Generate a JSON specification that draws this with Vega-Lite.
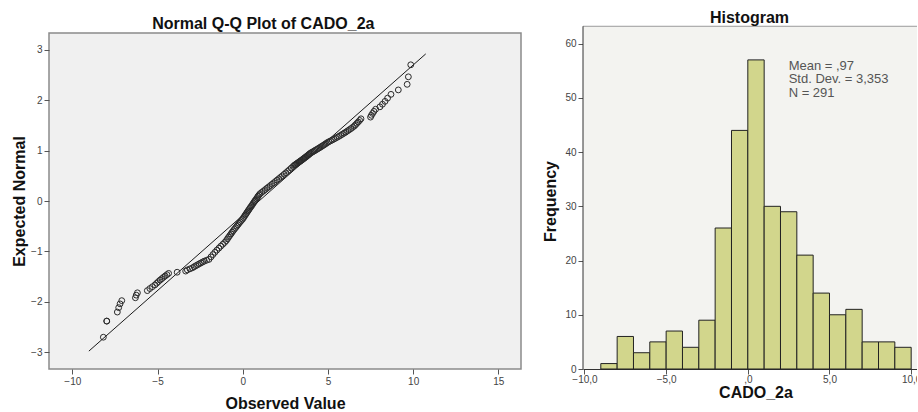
{
  "$schema": "https://vega.github.io/schema/vega-lite/v6.json",
  "background": "white",
  "padding": {"left": 10, "top": 9, "right": -12, "bottom": 0},
  "spacing": 20,
  "config": {
    "font": "Liberation Sans",
    "axis": {
      "labelFont": "Liberation Sans",
      "labelFontSize": 10,
      "labelColor": "#444",
      "tickColor": "#555",
      "tickSize": 5,
      "labelPadding": 2,
      "grid": false,
      "domain": false,
      "titleFont": "Liberation Sans",
      "titleFontSize": 16,
      "titleFontWeight": "bold",
      "titleColor": "#111"
    },
    "title": {"font": "Liberation Sans", "fontSize": 16, "fontWeight": "bold", "color": "#111"}
  },
  "datasets": {
    "qq": [
      {"observed": -8.18, "expected": -2.704},
      {"observed": -7.98, "expected": -2.384},
      {"observed": -7.98, "expected": -2.384},
      {"observed": -7.36, "expected": -2.205},
      {"observed": -7.28, "expected": -2.117},
      {"observed": -7.2, "expected": -2.042},
      {"observed": -7.1, "expected": -1.978},
      {"observed": -6.3, "expected": -1.921},
      {"observed": -6.25, "expected": -1.869},
      {"observed": -6.18, "expected": -1.822},
      {"observed": -5.6, "expected": -1.779},
      {"observed": -5.45, "expected": -1.738},
      {"observed": -5.3, "expected": -1.701},
      {"observed": -5.15, "expected": -1.665},
      {"observed": -5.05, "expected": -1.632},
      {"observed": -4.95, "expected": -1.6},
      {"observed": -4.85, "expected": -1.57},
      {"observed": -4.75, "expected": -1.542},
      {"observed": -4.65, "expected": -1.514},
      {"observed": -4.55, "expected": -1.488},
      {"observed": -4.45, "expected": -1.462},
      {"observed": -4.35, "expected": -1.437},
      {"observed": -3.85, "expected": -1.414},
      {"observed": -3.35, "expected": -1.391},
      {"observed": -3.25, "expected": -1.368},
      {"observed": -3.1, "expected": -1.347},
      {"observed": -2.95, "expected": -1.326},
      {"observed": -2.85, "expected": -1.305},
      {"observed": -2.75, "expected": -1.285},
      {"observed": -2.65, "expected": -1.266},
      {"observed": -2.55, "expected": -1.247},
      {"observed": -2.45, "expected": -1.229},
      {"observed": -2.35, "expected": -1.21},
      {"observed": -2.25, "expected": -1.193},
      {"observed": -2.12, "expected": -1.176},
      {"observed": -1.98, "expected": -1.159},
      {"observed": -1.865, "expected": -1.11},
      {"observed": -1.75, "expected": -1.063},
      {"observed": -1.635, "expected": -1.019},
      {"observed": -1.52, "expected": -0.976},
      {"observed": -1.4, "expected": -0.936},
      {"observed": -1.29, "expected": -0.897},
      {"observed": -1.17, "expected": -0.859},
      {"observed": -1.06, "expected": -0.822},
      {"observed": -0.966, "expected": -0.787},
      {"observed": -0.898, "expected": -0.752},
      {"observed": -0.83, "expected": -0.718},
      {"observed": -0.76, "expected": -0.685},
      {"observed": -0.69, "expected": -0.653},
      {"observed": -0.625, "expected": -0.621},
      {"observed": -0.557, "expected": -0.59},
      {"observed": -0.49, "expected": -0.56},
      {"observed": -0.42, "expected": -0.53},
      {"observed": -0.35, "expected": -0.501},
      {"observed": -0.284, "expected": -0.472},
      {"observed": -0.216, "expected": -0.443},
      {"observed": -0.148, "expected": -0.415},
      {"observed": -0.08, "expected": -0.387},
      {"observed": -0.011, "expected": -0.36},
      {"observed": 0.044, "expected": -0.332},
      {"observed": 0.096, "expected": -0.305},
      {"observed": 0.149, "expected": -0.278},
      {"observed": 0.2, "expected": -0.252},
      {"observed": 0.254, "expected": -0.225},
      {"observed": 0.307, "expected": -0.198},
      {"observed": 0.36, "expected": -0.172},
      {"observed": 0.412, "expected": -0.146},
      {"observed": 0.465, "expected": -0.12},
      {"observed": 0.518, "expected": -0.095},
      {"observed": 0.57, "expected": -0.069},
      {"observed": 0.623, "expected": -0.043},
      {"observed": 0.675, "expected": -0.017},
      {"observed": 0.71, "expected": 0.0},
      {"observed": 0.746, "expected": 0.017},
      {"observed": 0.8, "expected": 0.043},
      {"observed": 0.85, "expected": 0.069},
      {"observed": 0.9, "expected": 0.095},
      {"observed": 0.956, "expected": 0.12},
      {"observed": 1.017, "expected": 0.146},
      {"observed": 1.117, "expected": 0.172},
      {"observed": 1.217, "expected": 0.198},
      {"observed": 1.317, "expected": 0.225},
      {"observed": 1.417, "expected": 0.252},
      {"observed": 1.517, "expected": 0.278},
      {"observed": 1.617, "expected": 0.305},
      {"observed": 1.717, "expected": 0.332},
      {"observed": 1.817, "expected": 0.36},
      {"observed": 1.917, "expected": 0.387},
      {"observed": 2.017, "expected": 0.415},
      {"observed": 2.12, "expected": 0.443},
      {"observed": 2.224, "expected": 0.472},
      {"observed": 2.328, "expected": 0.501},
      {"observed": 2.43, "expected": 0.53},
      {"observed": 2.534, "expected": 0.56},
      {"observed": 2.638, "expected": 0.59},
      {"observed": 2.74, "expected": 0.621},
      {"observed": 2.845, "expected": 0.653},
      {"observed": 2.948, "expected": 0.685},
      {"observed": 3.024, "expected": 0.707},
      {"observed": 3.071, "expected": 0.718},
      {"observed": 3.119, "expected": 0.73},
      {"observed": 3.167, "expected": 0.741},
      {"observed": 3.214, "expected": 0.752},
      {"observed": 3.262, "expected": 0.764},
      {"observed": 3.31, "expected": 0.775},
      {"observed": 3.357, "expected": 0.787},
      {"observed": 3.405, "expected": 0.798},
      {"observed": 3.452, "expected": 0.81},
      {"observed": 3.5, "expected": 0.822},
      {"observed": 3.548, "expected": 0.834},
      {"observed": 3.595, "expected": 0.847},
      {"observed": 3.643, "expected": 0.859},
      {"observed": 3.69, "expected": 0.871},
      {"observed": 3.738, "expected": 0.884},
      {"observed": 3.786, "expected": 0.897},
      {"observed": 3.833, "expected": 0.91},
      {"observed": 3.881, "expected": 0.923},
      {"observed": 3.929, "expected": 0.936},
      {"observed": 3.976, "expected": 0.95},
      {"observed": 4.036, "expected": 0.963},
      {"observed": 4.107, "expected": 0.976},
      {"observed": 4.179, "expected": 0.99},
      {"observed": 4.25, "expected": 1.005},
      {"observed": 4.321, "expected": 1.019},
      {"observed": 4.393, "expected": 1.034},
      {"observed": 4.464, "expected": 1.049},
      {"observed": 4.536, "expected": 1.063},
      {"observed": 4.607, "expected": 1.079},
      {"observed": 4.679, "expected": 1.094},
      {"observed": 4.75, "expected": 1.11},
      {"observed": 4.821, "expected": 1.126},
      {"observed": 4.893, "expected": 1.142},
      {"observed": 4.964, "expected": 1.159},
      {"observed": 5.05, "expected": 1.176},
      {"observed": 5.15, "expected": 1.193},
      {"observed": 5.25, "expected": 1.21},
      {"observed": 5.35, "expected": 1.229},
      {"observed": 5.45, "expected": 1.247},
      {"observed": 5.55, "expected": 1.266},
      {"observed": 5.65, "expected": 1.285},
      {"observed": 5.75, "expected": 1.305},
      {"observed": 5.85, "expected": 1.326},
      {"observed": 5.95, "expected": 1.347},
      {"observed": 6.05, "expected": 1.368},
      {"observed": 6.15, "expected": 1.391},
      {"observed": 6.25, "expected": 1.414},
      {"observed": 6.35, "expected": 1.437},
      {"observed": 6.45, "expected": 1.462},
      {"observed": 6.55, "expected": 1.488},
      {"observed": 6.62, "expected": 1.514},
      {"observed": 6.7, "expected": 1.542},
      {"observed": 6.78, "expected": 1.57},
      {"observed": 6.86, "expected": 1.6},
      {"observed": 6.94, "expected": 1.632},
      {"observed": 7.5, "expected": 1.665},
      {"observed": 7.55, "expected": 1.701},
      {"observed": 7.62, "expected": 1.738},
      {"observed": 7.7, "expected": 1.779},
      {"observed": 7.8, "expected": 1.822},
      {"observed": 8.05, "expected": 1.869},
      {"observed": 8.2, "expected": 1.921},
      {"observed": 8.35, "expected": 1.978},
      {"observed": 8.5, "expected": 2.042},
      {"observed": 8.7, "expected": 2.117},
      {"observed": 9.13, "expected": 2.205},
      {"observed": 9.65, "expected": 2.316},
      {"observed": 9.72, "expected": 2.465},
      {"observed": 9.86, "expected": 2.704}
    ],
    "refline": [
      {"observed": -9.03, "expected": -2.98},
      {"observed": 10.74, "expected": 2.92}
    ],
    "hist": [
      {"bin_start": -9, "bin_end": -8, "count": 1},
      {"bin_start": -8, "bin_end": -7, "count": 6},
      {"bin_start": -7, "bin_end": -6, "count": 3},
      {"bin_start": -6, "bin_end": -5, "count": 5},
      {"bin_start": -5, "bin_end": -4, "count": 7},
      {"bin_start": -4, "bin_end": -3, "count": 4},
      {"bin_start": -3, "bin_end": -2, "count": 9},
      {"bin_start": -2, "bin_end": -1, "count": 26},
      {"bin_start": -1, "bin_end": 0, "count": 44},
      {"bin_start": 0, "bin_end": 1, "count": 57},
      {"bin_start": 1, "bin_end": 2, "count": 30},
      {"bin_start": 2, "bin_end": 3, "count": 29},
      {"bin_start": 3, "bin_end": 4, "count": 21},
      {"bin_start": 4, "bin_end": 5, "count": 14},
      {"bin_start": 5, "bin_end": 6, "count": 10},
      {"bin_start": 6, "bin_end": 7, "count": 11},
      {"bin_start": 7, "bin_end": 8, "count": 5},
      {"bin_start": 8, "bin_end": 9, "count": 5},
      {"bin_start": 9, "bin_end": 10, "count": 4}
    ]
  },
  "hconcat": [
    {
      "width": 472,
      "height": 336,
      "title": {"text": "Normal Q-Q Plot of CADO_2a", "anchor": "middle", "frame": "bounds", "offset": 1, "dx": -3},
      "view": {"fill": "#f0f0f0", "stroke": "#8a8a8a", "strokeWidth": 1.5},
      "encoding": {
        "x": {
          "field": "observed",
          "type": "quantitative",
          "scale": {"domain": [-11.37, 16.33], "nice": false, "zero": false},
          "axis": {"title": "Observed Value", "values": [-10, -5, 0, 5, 10, 15], "titlePadding": 9}
        },
        "y": {
          "field": "expected",
          "type": "quantitative",
          "scale": {"domain": [-3.335, 3.335], "nice": false, "zero": false},
          "axis": {"title": "Expected Normal", "values": [-3, -2, -1, 0, 1, 2, 3], "titlePadding": 3}
        }
      },
      "layer": [
        {
          "data": {"name": "refline"},
          "mark": {"type": "line", "color": "#1a1a1a", "strokeWidth": 1}
        },
        {
          "data": {"name": "qq"},
          "mark": {"type": "point", "shape": "circle", "filled": false, "size": 34, "stroke": "#2a2a2a", "strokeWidth": 1, "opacity": 1}
        }
      ]
    },
    {
      "width": 345,
      "height": 336,
      "title": {"text": "Histogram", "anchor": "middle", "frame": "group", "dx": -6, "offset": 0},
      "view": {"stroke": null},
      "layer": [
        {
          "data": {"values": [{"panel": "histogram"}]},
          "mark": {"type": "rect", "fill": "#f3f3f0"},
          "encoding": {
            "x": {"datum": -10.09, "type": "quantitative", "scale": {"domain": [-10.09, 11.03], "nice": false, "zero": false}},
            "x2": {"datum": 11.03},
            "y": {"datum": 0, "type": "quantitative", "scale": {"domain": [0, 61.96], "nice": false, "zero": false}},
            "y2": {"datum": 63.2}
          }
        },
        {
          "data": {"name": "hist"},
          "mark": {"type": "bar", "fill": "#d2d68c", "stroke": "#222", "strokeWidth": 1},
          "encoding": {
            "x": {
              "field": "bin_start",
              "type": "quantitative",
              "scale": {"domain": [-10.09, 11.03], "nice": false, "zero": false},
              "axis": {
                "title": "CADO_2a",
                "values": [-10, -5, 0, 5, 10],
                "labelExpr": "datum.value == 0 ? ',0' : replace(format(datum.value, '.1f'), '.', ',')",
                "domain": true,
                "domainColor": "#333",
                "labelPadding": 0,
                "titlePadding": 0
              }
            },
            "x2": {"field": "bin_end"},
            "y": {
              "field": "count",
              "type": "quantitative",
              "scale": {"domain": [0, 61.96], "nice": false, "zero": false},
              "axis": {
                "title": "Frequency",
                "values": [0, 10, 20, 30, 40, 50, 60],
                "titlePadding": 6
              }
            },
            "y2": {"datum": 0}
          }
        },
        {
          "data": {"values": [{"panel": "histogram"}]},
          "mark": {"type": "rule", "color": "#9a9a9a", "strokeWidth": 1},
          "encoding": {
            "y": {"datum": 63.2, "type": "quantitative", "scale": {"domain": [0, 61.96], "nice": false, "zero": false}}
          }
        },
        {
          "data": {"values": [{"panel": "histogram"}]},
          "mark": {"type": "rule", "color": "#333", "strokeWidth": 1},
          "encoding": {
            "x": {"datum": -10.09, "type": "quantitative", "scale": {"domain": [-10.09, 11.03], "nice": false, "zero": false}},
            "y": {"datum": 0, "type": "quantitative", "scale": {"domain": [0, 61.96], "nice": false, "zero": false}},
            "y2": {"datum": 63.2}
          }
        },
        {
          "data": {"values": [{"mean": 0.97, "sd": 3.353, "n": 291}]},
          "mark": {
            "type": "text",
            "text": ["Mean = ,97", "Std. Dev. = 3,353", "N = 291"],
            "align": "left",
            "baseline": "top",
            "fontSize": 13,
            "lineHeight": 13.5,
            "color": "#555"
          },
          "encoding": {
            "x": {"datum": 2.5, "type": "quantitative", "scale": {"domain": [-10.09, 11.03], "nice": false, "zero": false}},
            "y": {"datum": 57.0, "type": "quantitative", "scale": {"domain": [0, 61.96], "nice": false, "zero": false}}
          }
        }
      ]
    }
  ]
}
